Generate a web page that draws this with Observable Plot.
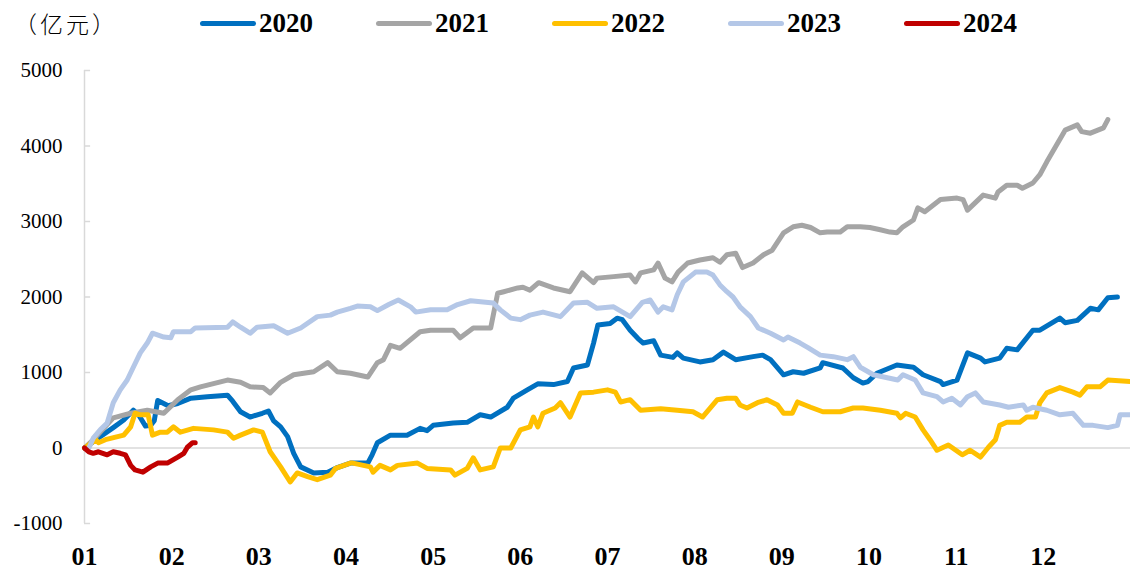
<!DOCTYPE html>
<html>
<head>
<meta charset="utf-8">
<script src="https://cdn.jsdelivr.net/npm/d3@7"></script>
<script src="https://cdn.jsdelivr.net/npm/@observablehq/plot@0.6"></script>
<style>
  html, body { margin: 0; padding: 0; background: #fff; }
  #wrap { width: 1130px; height: 570px; position: relative; overflow: hidden; }
  #legend { position: relative; width: 1130px; height: 45px; }
  #legend .unit { position: absolute; left: 14px; top: 9px; font-family: "Noto Sans CJK SC", sans-serif; font-size: 23px; letter-spacing: 3px; line-height: 28px; color: #000; font-weight: 300; }
  #legend .item { position: absolute; top: 8px; height: 30px; display: flex; align-items: center; }
  #legend .sw { width: 56px; height: 5px; border-radius: 3px; margin-right: 3px; }
  #legend .lab { font-family: "Liberation Serif", "Times New Roman", serif; font-weight: bold; font-size: 27px; color: #000; line-height: 30px; }
</style>
</head>
<body>
<div id="wrap">
  <div id="legend"></div>
  <div id="chart"></div>
</div>
<script>
// ---- data (x = month position from Jan 1, value in 亿元) ----
const years = ["2020", "2021", "2022", "2023", "2024"];
const colors = ["#0070C0", "#A5A5A5", "#FFC000", "#B4C7E7", "#C00000"];
const monthLabels = ["01","02","03","04","05","06","07","08","09","10","11","12"];
const yTicks = [-1000, 0, 1000, 2000, 3000, 4000, 5000];
const unitLabel = "（亿元）";

const s2020 = [[0,0],[0.18,150],[0.33,270],[0.45,370],[0.56,500],[0.62,440],[0.70,290],[0.76,300],[0.80,360],[0.84,630],[0.96,560],[1.07,590],[1.22,660],[1.41,680],[1.64,700],[1.70,620],[1.79,480],[1.90,410],[2.04,460],[2.11,490],[2.17,360],[2.25,280],[2.33,150],[2.40,-70],[2.48,-250],[2.63,-330],[2.79,-320],[2.90,-260],[3.05,-200],[3.13,-200],[3.25,-200],[3.30,-90],[3.36,70],[3.51,170],[3.70,170],[3.85,260],[3.93,230],[4.00,300],[4.23,330],[4.39,340],[4.54,440],[4.66,410],[4.85,540],[4.92,660],[5.08,770],[5.20,850],[5.38,840],[5.54,880],[5.61,1060],[5.77,1100],[5.84,1390],[5.89,1630],[6.03,1650],[6.11,1720],[6.17,1700],[6.26,1560],[6.35,1450],[6.41,1390],[6.53,1420],[6.61,1230],[6.75,1200],[6.80,1260],[6.87,1190],[7.06,1140],[7.21,1170],[7.33,1270],[7.47,1170],[7.67,1210],[7.78,1230],[7.87,1170],[8.02,970],[8.13,1010],[8.25,990],[8.44,1060],[8.47,1130],[8.70,1060],[8.82,930],[8.93,860],[8.99,880],[9.09,990],[9.32,1100],[9.51,1070],[9.62,970],[9.82,880],[9.85,840],[10.01,900],[10.13,1260],[10.28,1190],[10.33,1140],[10.50,1190],[10.58,1320],[10.70,1300],[10.88,1560],[10.96,1560],[11.19,1720],[11.25,1660],[11.39,1690],[11.54,1850],[11.63,1830],[11.74,1990],[11.85,2000]];

const s2021 = [[0,0],[0.10,110],[0.33,400],[0.53,460],[0.72,500],[0.91,460],[1.07,640],[1.22,770],[1.33,810],[1.64,900],[1.79,870],[1.90,810],[2.05,800],[2.13,730],[2.25,870],[2.40,970],[2.63,1010],[2.79,1130],[2.90,1010],[3.05,990],[3.25,940],[3.36,1130],[3.43,1170],[3.51,1360],[3.62,1320],[3.85,1540],[3.97,1560],[4.23,1560],[4.31,1460],[4.46,1590],[4.66,1590],[4.74,2050],[4.81,2070],[4.97,2120],[5.03,2130],[5.11,2090],[5.21,2190],[5.38,2120],[5.57,2070],[5.71,2320],[5.84,2190],[5.88,2250],[6.07,2270],[6.26,2290],[6.32,2200],[6.38,2320],[6.53,2360],[6.58,2450],[6.66,2250],[6.74,2200],[6.81,2330],[6.92,2450],[7.06,2490],[7.21,2520],[7.29,2460],[7.37,2560],[7.47,2580],[7.55,2390],[7.67,2450],[7.79,2560],[7.89,2620],[8.02,2850],[8.13,2930],[8.23,2950],[8.33,2920],[8.44,2850],[8.52,2860],[8.67,2860],[8.75,2930],[8.90,2930],[9.01,2920],[9.13,2890],[9.24,2860],[9.32,2850],[9.39,2930],[9.51,3020],[9.56,3180],[9.64,3130],[9.82,3290],[10.01,3310],[10.08,3290],[10.13,3150],[10.31,3350],[10.45,3310],[10.48,3390],[10.58,3480],[10.70,3480],[10.76,3440],[10.88,3510],[10.96,3620],[11.04,3790],[11.25,4210],[11.39,4280],[11.44,4190],[11.54,4170],[11.69,4240],[11.74,4350]];

const s2022 = [[0,0],[0.13,110],[0.16,70],[0.24,110],[0.45,170],[0.53,280],[0.58,460],[0.64,440],[0.73,440],[0.78,170],[0.87,210],[0.95,210],[1.02,280],[1.10,210],[1.25,260],[1.48,240],[1.64,210],[1.71,130],[1.79,170],[1.94,240],[2.04,210],[2.13,-50],[2.25,-250],[2.36,-450],[2.44,-330],[2.56,-380],[2.67,-420],[2.82,-360],[2.88,-270],[3.05,-200],[3.08,-200],[3.28,-250],[3.31,-320],[3.39,-230],[3.51,-290],[3.59,-230],[3.82,-200],[3.93,-270],[4.20,-290],[4.25,-360],[4.39,-270],[4.46,-130],[4.54,-290],[4.69,-250],[4.77,0],[4.89,0],[5.00,240],[5.11,280],[5.15,410],[5.20,280],[5.26,460],[5.40,530],[5.46,600],[5.57,410],[5.69,730],[5.84,740],[6.00,770],[6.09,740],[6.15,610],[6.26,640],[6.38,500],[6.61,520],[6.80,500],[6.98,480],[7.09,410],[7.26,640],[7.37,660],[7.47,660],[7.52,570],[7.60,530],[7.72,600],[7.83,640],[7.95,570],[8.02,460],[8.12,460],[8.18,610],[8.33,540],[8.47,480],[8.67,480],[8.82,530],[8.93,530],[9.13,500],[9.32,460],[9.36,400],[9.42,460],[9.53,410],[9.62,240],[9.70,110],[9.78,-30],[9.91,40],[10.07,-90],[10.16,-30],[10.28,-120],[10.37,10],[10.45,110],[10.50,300],[10.58,340],[10.73,340],[10.81,410],[10.91,410],[10.96,600],[11.04,730],[11.19,800],[11.34,740],[11.42,700],[11.50,810],[11.65,810],[11.74,900],[12.00,880]];

const s2023 = [[0.05,0],[0.10,130],[0.18,240],[0.26,330],[0.33,600],[0.41,770],[0.49,900],[0.56,1070],[0.64,1260],[0.72,1390],[0.78,1520],[0.91,1470],[0.99,1460],[1.02,1540],[1.22,1540],[1.27,1590],[1.64,1600],[1.70,1670],[1.79,1600],[1.90,1520],[1.98,1600],[2.17,1620],[2.33,1520],[2.48,1590],[2.67,1740],[2.82,1760],[2.90,1800],[3.05,1850],[3.13,1880],[3.28,1870],[3.36,1820],[3.49,1900],[3.60,1960],[3.74,1870],[3.80,1800],[3.97,1830],[4.16,1830],[4.28,1900],[4.43,1950],[4.69,1920],[4.77,1830],[4.89,1720],[5.00,1700],[5.11,1760],[5.26,1800],[5.46,1740],[5.61,1920],[5.77,1930],[5.88,1850],[6.07,1870],[6.26,1740],[6.40,1930],[6.49,1960],[6.58,1800],[6.64,1870],[6.74,1830],[6.80,2030],[6.87,2200],[7.01,2330],[7.14,2330],[7.21,2290],[7.29,2160],[7.37,2070],[7.44,2000],[7.52,1870],[7.64,1740],[7.73,1590],[7.87,1520],[8.02,1430],[8.07,1470],[8.21,1390],[8.30,1330],[8.44,1230],[8.59,1210],[8.75,1170],[8.82,1210],[8.90,1070],[9.05,970],[9.21,930],[9.33,900],[9.39,970],[9.53,900],[9.62,730],[9.78,680],[9.85,610],[9.95,660],[10.05,570],[10.13,680],[10.22,730],[10.31,610],[10.50,570],[10.60,540],[10.77,570],[10.81,500],[10.88,540],[11.04,500],[11.19,440],[11.34,460],[11.46,300],[11.57,300],[11.74,270],[11.85,300],[11.88,440],[12.00,440]];

const s2024 = [[0,0],[0.05,-50],[0.10,-70],[0.16,-50],[0.26,-90],[0.33,-50],[0.41,-70],[0.47,-90],[0.53,-230],[0.58,-290],[0.67,-320],[0.76,-250],[0.84,-200],[0.95,-200],[1.07,-120],[1.14,-70],[1.18,10],[1.24,70],[1.27,70]];

const seriesList = [s2020, s2021, s2022, s2023, s2024];

// ---- legend (HTML, above the SVG) ----
const legend = document.getElementById("legend");
const unit = document.createElement("div");
unit.className = "unit";
unit.textContent = unitLabel;
legend.appendChild(unit);
years.forEach((yr, i) => {
  const item = document.createElement("div");
  item.className = "item";
  item.style.left = (200 + i * 176) + "px";
  const sw = document.createElement("span");
  sw.className = "sw";
  sw.style.background = colors[i];
  const lab = document.createElement("span");
  lab.className = "lab";
  lab.textContent = yr;
  item.appendChild(sw);
  item.appendChild(lab);
  legend.appendChild(item);
});

// ---- chart ----
const data = years.flatMap((yr, i) => seriesList[i].map(([m, v]) => ({year: yr, m, v})));
const axisGray = "#D9D9D9";

const chart = Plot.plot({
  width: 1130,
  height: 525,
  marginLeft: 84,
  marginRight: 0,
  marginTop: 25,
  marginBottom: 47,
  style: {fontFamily: "'Liberation Serif', 'Times New Roman', serif", color: "#000", background: "#fff", overflow: "visible"},
  x: {domain: [0, 12]},
  y: {domain: [-1000, 5000]},
  color: {domain: years, range: colors},
  marks: [
    Plot.ruleY([0], {stroke: axisGray, strokeWidth: 1.5}),
    Plot.ruleX([0], {y1: -1000, y2: 5000, stroke: axisGray, strokeWidth: 1.5}),
    Plot.ruleY(yTicks, {x1: 0, x2: 0.07, stroke: axisGray, strokeWidth: 1.5}),
    Plot.axisY({ticks: yTicks, tickSize: 0, tickPadding: 22, fontSize: 21, label: null, tickFormat: d => String(d)}),
    Plot.axisX({ticks: d3.range(12), tickFormat: i => monthLabels[i], tickSize: 0, tickPadding: 23, fontSize: 26, fontWeight: "bold", label: null}),
    Plot.line(data, {x: "m", y: "v", z: "year", stroke: "year", strokeWidth: 5, strokeLinejoin: "round", strokeLinecap: "round"})
  ]
});
document.getElementById("chart").appendChild(chart);
</script>
</body>
</html>
